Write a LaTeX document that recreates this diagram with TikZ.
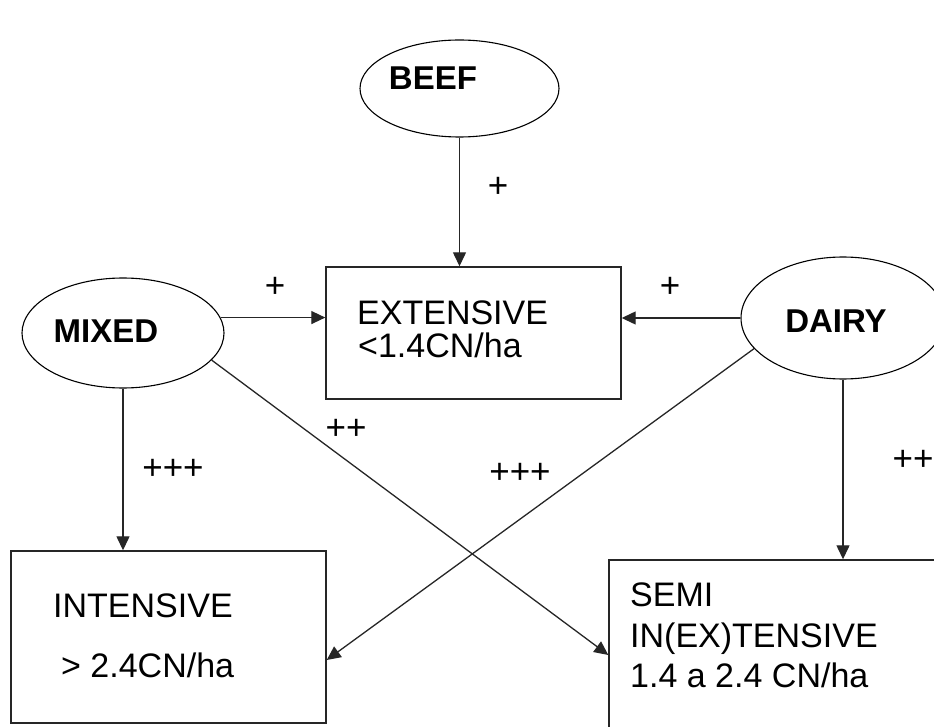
\documentclass[tikz,border=0pt]{standalone}
\usepackage{fontspec}
\setmainfont{Liberation Sans}
\usetikzlibrary{arrows.meta, shapes.geometric, calc}
\colorlet{line_grey}{black!85}
\tikzset{>={Triangle[length=14pt,width=13pt]},
  herd/.style={ellipse, draw, line width=1.1pt, inner sep=0pt},
  stockbox/.style={rectangle, draw=line_grey, line width=1.4pt, inner sep=0pt},
  herd label/.style={inner sep=0pt, font=\fontsize{33}{40}\selectfont\bfseries},
  box text/.style={anchor=base west, inner sep=0pt, font=\fontsize{34}{40}\selectfont},
  sign/.style={inner sep=0pt, font=\fontsize{35}{40}\selectfont},
  flow/.style={->, line width=1.3pt, draw=line_grey}
}

\begin{document}
\begin{tikzpicture}[x=1pt, y=-1pt]

\useasboundingbox (0,0) rectangle (934,727);
\clip (0,0) rectangle (934,727);

% Draw the herd types
\node[herd, minimum width=199pt, minimum height=97pt] (beef) at (459.5,88.5) {};
\node[herd, minimum width=202pt, minimum height=110pt] (mixed) at (123,333) {};
\node[herd, minimum width=204pt, minimum height=122pt] (dairy) at (843,318) {};
\node[herd label] (beef_t) at (433,78) {BEEF};
\node[herd label] (mixed_t) at (106,331) {MIXED};
\node[herd label] (dairy_t) at (836,321) {DAIRY};

% Draw the stocking rate boxes
\node[stockbox, minimum width=295pt, minimum height=132pt] (ext) at (473.5,333) {};
\node[stockbox, minimum width=315pt, minimum height=172pt] (int) at (168.5,637) {};
\node[stockbox, minimum width=336pt, minimum height=190pt] (semi) at (777,655) {};

\node[box text] (ext_a) at (357,324) {EXTENSIVE};
\node[box text] (ext_b) at (358,357) {<1.4CN/ha};
\node[box text] (int_a) at (53,617) {INTENSIVE};
\node[box text] (int_b) at (61,677) {> 2.4CN/ha};
\node[box text] (semi_a) at (630,606) {SEMI};
\node[box text] (semi_b) at (630,647) {IN(EX)TENSIVE};
\node[box text] (semi_c) at (630,687) {1.4 a 2.4 CN/ha};

% Draw the links between herds and boxes
\draw[flow] (beef.south) -- (beef.south |- ext.north);
\draw[flow] (mixed.9) -- (mixed.9 -| ext.west);
\draw[flow] (dairy.west) -- (dairy.west -| ext.east);
\draw[flow] (mixed.south) -- (mixed.south |- int.north);
\draw[flow] (dairy.south) -- (dairy.south |- semi.north);
\draw[flow] (mixed.-17) -- (semi.west);
\draw[flow] (dairy.199) -- ([yshift=-23pt]int.east);

% Signs on the links
\node[sign] (s_beef) at (498,187) {+};
\node[sign] (s_mixed) at (275,287) {+};
\node[sign] (s_dairy) at (670,287) {+};
\node[sign] (s_mixsemi) at (346,429) {++};
\node[sign] (s_mixint) at (173,469) {+++};
\node[sign] (s_dairyint) at (520,473) {+++};
\node[sign] (s_dairysemi) at (913,460) {++};

\end{tikzpicture}
\end{document}
